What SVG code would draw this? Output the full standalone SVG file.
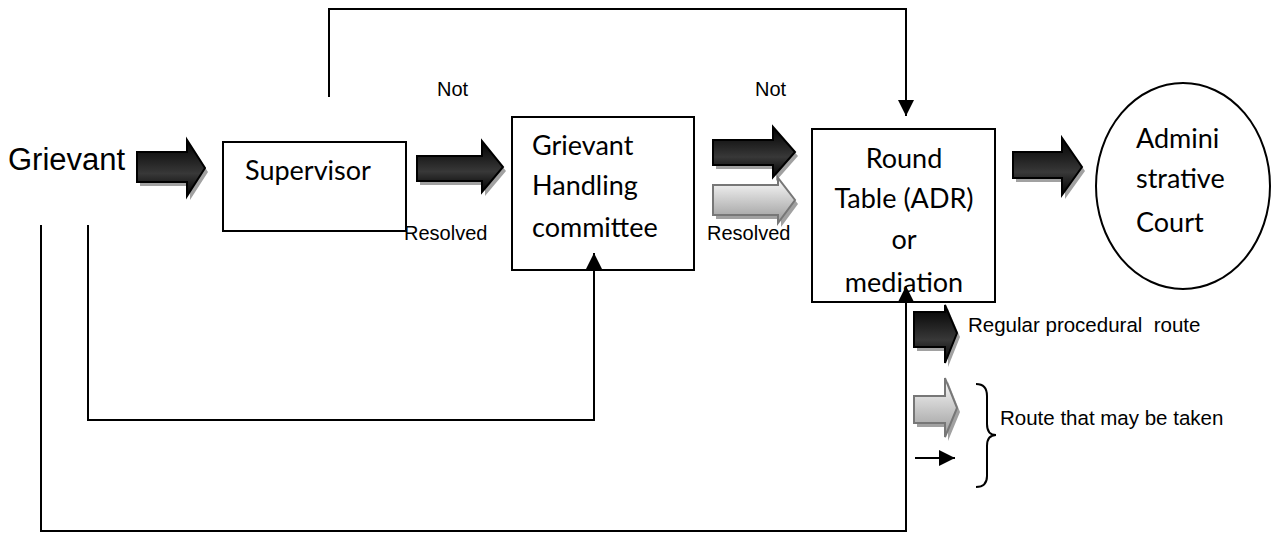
<svg xmlns="http://www.w3.org/2000/svg" width="1277" height="533" viewBox="0 0 1277 533">
<defs>
<linearGradient id="gBlack" x1="0" y1="0" x2="0" y2="1">
<stop offset="0" stop-color="#000"/>
<stop offset="0.6" stop-color="#383838"/>
<stop offset="1" stop-color="#000"/>
</linearGradient>
<linearGradient id="gGray" x1="0" y1="0" x2="0" y2="1">
<stop offset="0" stop-color="#fbfbfb"/>
<stop offset="1" stop-color="#9a9a9a"/>
</linearGradient>
<marker id="tri" viewBox="0 0 16 16" refX="16" refY="8" markerWidth="16" markerHeight="16" markerUnits="userSpaceOnUse" orient="auto">
<path d="M0,0 L16,8 L0,16 Z" fill="#000"/>
</marker>
</defs>
<style>
.box{fill:#fff;stroke:#000;stroke-width:2}
.conn{fill:none;stroke:#000;stroke-width:2}
.blk{fill:url(#gBlack);stroke:#000;stroke-width:2}
.gry{fill:url(#gGray);stroke:#777;stroke-width:2}
.shd{fill:#8a8a8a;opacity:0.8}
.lbl{font-family:"Liberation Sans",Arial,sans-serif;font-size:20px;fill:#000}
.leg{font-family:"Liberation Sans",Arial,sans-serif;font-size:20.5px;fill:#000;white-space:pre}
.big{font-family:"Liberation Sans",Arial,sans-serif;font-size:31px;fill:#000}
.cal{font-family:Lato,"Open Sans",sans-serif;font-size:27px;fill:#000}
</style>

<g id="grievant">
<text class="big" x="8" y="170">Grievant</text>
</g>

<g id="arrow-grievant-supervisor">
<path class="shd" transform="translate(3,4)" d="M137,152 H187 V140 L205,168 L187,196 V182 H137 Z"/>
<path class="blk" d="M137,152 H187 V140 L205,168 L187,196 V182 H137 Z"/>
</g>

<g id="supervisor">
<rect class="box" x="223" y="142" width="183" height="89"/>
<text class="cal" x="245" y="180">Supervisor</text>
</g>

<g id="arrow-supervisor-committee">
<path class="shd" transform="translate(3,4)" d="M417,156 H482 V141 L503,167 L482,192 V181 H417 Z"/>
<path class="blk" d="M417,156 H482 V141 L503,167 L482,192 V181 H417 Z"/>
<text class="lbl" x="437" y="96">Not</text>
<text class="lbl" x="404" y="240">Resolved</text>
</g>

<g id="committee">
<rect class="box" x="512" y="117" width="182" height="153"/>
<text class="cal" x="532" y="155">Grievant</text>
<text class="cal" x="532" y="195">Handling</text>
<text class="cal" x="532" y="237">committee</text>
</g>

<g id="arrows-committee-roundtable">
<path class="shd" transform="translate(3,4)" d="M713,140 H773 V127 L795,152 L773,177 V165 H713 Z"/>
<path class="blk" d="M713,140 H773 V127 L795,152 L773,177 V165 H713 Z"/>
<path class="shd" transform="translate(3,4)" d="M713,185 H778 V178 L795,200 L778,223 V215 H713 Z"/>
<path class="gry" d="M713,185 H778 V178 L795,200 L778,223 V215 H713 Z"/>
<text class="lbl" x="755" y="96">Not</text>
<text class="lbl" x="707" y="240">Resolved</text>
</g>

<g id="roundtable">
<rect class="box" x="812" y="129" width="183" height="173"/>
<text class="cal" x="904" y="168" text-anchor="middle">Round</text>
<text class="cal" x="904" y="208" text-anchor="middle">Table (ADR)</text>
<text class="cal" x="904" y="249" text-anchor="middle">or</text>
<text class="cal" x="904" y="292" text-anchor="middle">mediation</text>
</g>

<g id="arrow-roundtable-court">
<path class="shd" transform="translate(3,4)" d="M1013,152 H1062 V138 L1082,167 L1062,195 V178 H1013 Z"/>
<path class="blk" d="M1013,152 H1062 V138 L1082,167 L1062,195 V178 H1013 Z"/>
</g>

<g id="court">
<ellipse class="box" cx="1183" cy="186" rx="87" ry="103"/>
<text class="cal" x="1136" y="148">Admini</text>
<text class="cal" x="1136" y="188">strative</text>
<text class="cal" x="1136" y="232">Court</text>
</g>

<g id="legend">
<path class="shd" transform="translate(3,4)" d="M914,312 H945 V305 L957,333 L945,363 V347 H914 Z"/>
<path class="blk" d="M914,312 H945 V305 L957,333 L945,363 V347 H914 Z"/>
<text class="leg" x="968" y="332" xml:space="preserve">Regular procedural  route</text>
<path class="shd" transform="translate(3,4)" d="M914,396 H945 V378 L957,408 L945,437 V423 H914 Z"/>
<path class="gry" d="M914,396 H945 V378 L957,408 L945,437 V423 H914 Z"/>
<path class="conn" d="M915,458 H955" marker-end="url(#tri)"/>
<path class="conn" stroke-width="1.5" d="M976,384 Q987,384 987,396 V424 Q987,435 996,435 Q987,435 987,446 V476 Q987,487 976,487"/>
<text class="leg" x="1000" y="425">Route that may be taken</text>
</g>

<g id="connectors">
<path class="conn" d="M329,97 V9 H906 V116" marker-end="url(#tri)"/>
<path class="conn" d="M88,225 V420 H594 V253" marker-end="url(#tri)"/>
<path class="conn" d="M41,225 V531 H906 V286" marker-end="url(#tri)"/>
</g>
</svg>
